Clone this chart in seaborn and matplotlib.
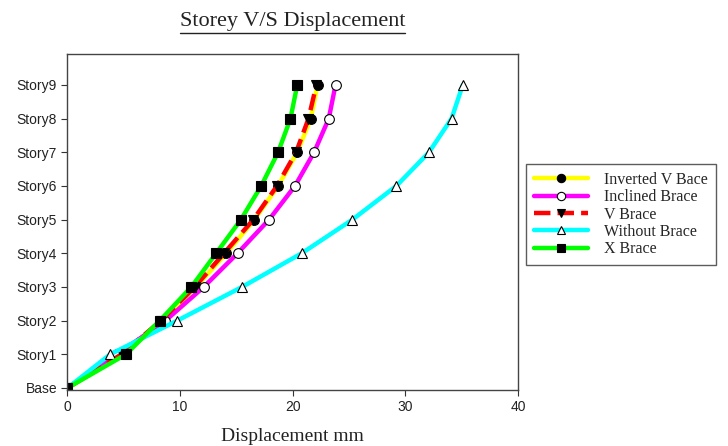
import numpy as np
import pandas as pd
import matplotlib
matplotlib.use('Agg')
import matplotlib.pyplot as plt
from matplotlib.lines import Line2D
import seaborn as sns

# storeys (y) and displacement in mm (x)
stories = ['Base', 'Story1', 'Story2', 'Story3', 'Story4', 'Story5',
           'Story6', 'Story7', 'Story8', 'Story9']
inverted_v = [0, 4.9, 8.4, 11.4, 14.1, 16.6, 18.7, 20.4, 21.6, 22.2]
inclined = [0, 4.4, 8.7, 12.1, 15.1, 17.9, 20.2, 21.9, 23.2, 23.8]
v_brace = [0, 4.8, 8.3, 11.3, 13.9, 16.5, 18.6, 20.3, 21.4, 22.1]
without = [0, 3.8, 9.75, 15.5, 20.8, 25.3, 29.2, 32.1, 34.1, 35.1]
x_brace = [0, 5.2, 8.2, 11.0, 13.2, 15.4, 17.2, 18.7, 19.8, 20.4]

names = ['Inverted V Bace', 'Inclined Brace', 'V Brace', 'Without Brace', 'X Brace']
series = [inverted_v, inclined, v_brace, without, x_brace]

level = np.arange(len(stories))
df = pd.concat([pd.DataFrame({'disp': s, 'level': level, 'case': n})
                for n, s in zip(names, series)], ignore_index=True)

sns.set_style('white')
fig = plt.figure(figsize=(7.28, 4.46), dpi=100)
ax = fig.add_axes([0.0927, 0.1256, 0.6188, 0.7534])

# line colour, linestyle, marker, marker face
styles = {
    'Inverted V Bace': ('#ffff00', '-', 'o', 'black'),
    'Inclined Brace': ('#ff00ff', '-', 'o', 'white'),
    'V Brace': ('#ff0000', '--', 'v', 'black'),
    'Without Brace': ('#00ffff', '-', '^', 'white'),
    'X Brace': ('#00ff00', '-', 's', 'black'),
}

for n in names:
    col, ls, mk, fc = styles[n]
    sns.lineplot(data=df[df.case == n], x='disp', y='level', ax=ax,
                 sort=False, estimator=None, orient='y',
                 color=col, linestyle=ls, linewidth=3.2, marker=mk,
                 markersize=7, markerfacecolor=fc, markeredgecolor='black',
                 markeredgewidth=0.8, label=n)

ax.set_xlim(0, 40)
ax.set_ylim(-0.06, 9.92)
ax.set_xticks([0, 10, 20, 30, 40])
ax.set_yticks(level)
ax.set_yticklabels(stories)
ax.tick_params(axis='both', direction='out', length=4, width=0.8,
               colors='#333333', labelsize=10, left=True, bottom=True)
for lab in ax.get_xticklabels() + ax.get_yticklabels():
    lab.set_fontfamily('Liberation Sans')
    lab.set_color('#222222')
for sp in ax.spines.values():
    sp.set_color('#444444')
    sp.set_linewidth(1.0)

ax.set_ylabel('')
ax.set_xlabel('Displacement mm', fontfamily='Liberation Serif', fontsize=14,
              labelpad=10, color='#222222')
title = ax.set_title('Storey V/S Displacement', fontfamily='Liberation Serif',
                     fontsize=16, pad=20, color='#222222')

leg = ax.legend(loc='upper left', bbox_to_anchor=(526 / 728, 1 - 164 / 446),
                bbox_transform=fig.transFigure, frameon=True, fancybox=False,
                prop={'family': 'Liberation Serif', 'size': 11.5},
                handlelength=3.4, borderpad=0.5, labelspacing=0.08,
                handletextpad=1.0, borderaxespad=0)
leg.get_frame().set_edgecolor('#333333')
leg.get_frame().set_linewidth(1.0)
for h in leg.legend_handles:
    h.set_markersize(6)

# underline the title
fig.canvas.draw()
bb = title.get_window_extent()
y_line = bb.y0 - 2
fig.add_artist(Line2D([bb.x0, bb.x1], [y_line, y_line], transform=None,
                      color='#222222', linewidth=1.0))

fig.savefig('out.png', dpi=100)
